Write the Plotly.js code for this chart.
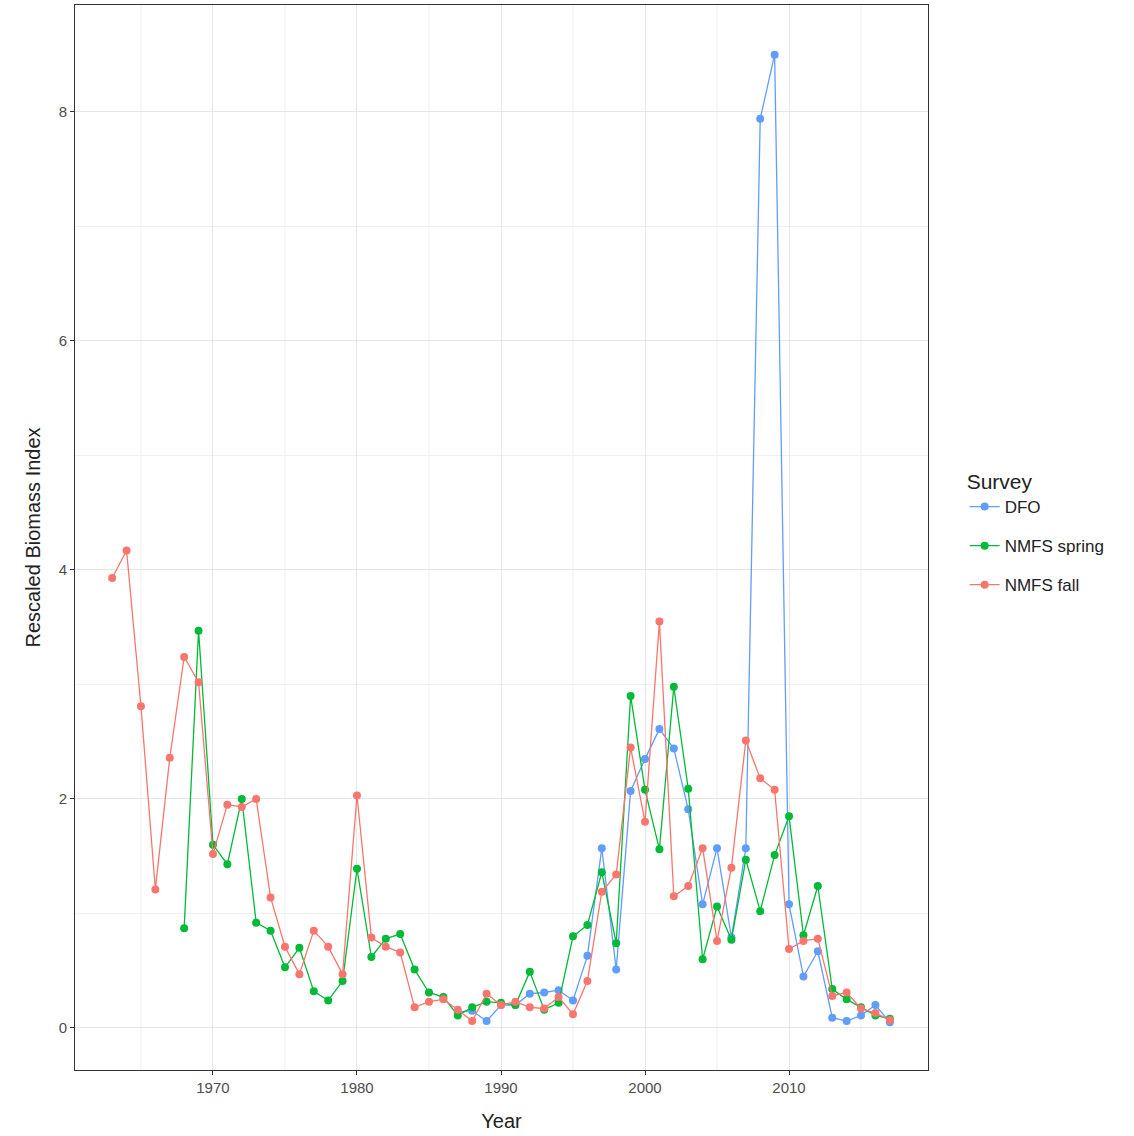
<!DOCTYPE html>
<html><head><script src="https://cdn.plot.ly/plotly-3.0.1.min.js"></script>
<style>body{margin:0}</style></head><body><div id="c" style="width:1134px;height:1136px"></div>
<script>
const fallYears=[];for(let y=1963;y<=2017;y++)fallYears.push(y);
const fallVals=[3.93,4.17,2.81,1.21,2.36,3.24,3.02,1.52,1.95,1.93,2.0,1.14,0.71,0.47,0.85,0.71,0.47,2.03,0.79,0.71,0.66,0.18,0.23,0.25,0.16,0.06,0.3,0.2,0.23,0.18,0.17,0.27,0.12,0.41,1.19,1.34,2.45,1.8,3.55,1.15,1.24,1.57,0.76,1.4,2.51,2.18,2.08,0.69,0.76,0.78,0.28,0.31,0.17,0.13,0.07];
const springYears=[];for(let y=1968;y<=2017;y++)springYears.push(y);
const springVals=[0.87,3.47,1.6,1.43,2.0,0.92,0.85,0.53,0.7,0.32,0.24,0.41,1.39,0.62,0.78,0.82,0.51,0.31,0.27,0.11,0.18,0.23,0.22,0.2,0.49,0.16,0.22,0.8,0.9,1.36,0.74,2.9,2.08,1.56,2.98,2.09,0.6,1.06,0.77,1.47,1.02,1.51,1.85,0.81,1.24,0.34,0.25,0.18,0.11,0.08];
const dfoYears=[];for(let y=1987;y<=2017;y++)dfoYears.push(y);
const dfoVals=[0.14,0.15,0.06,0.2,0.2,0.3,0.31,0.33,0.24,0.63,1.57,0.51,2.07,2.35,2.61,2.44,1.91,1.08,1.57,0.79,1.57,7.94,8.5,1.08,0.45,0.67,0.09,0.06,0.11,0.2,0.05];
function tr(x,y,name,color){return {x:x,y:y,name:name,legendgroup:name,type:'scatter',mode:'lines+markers',line:{color:color,width:1.3},marker:{color:color,size:8}};}
const data=[tr(dfoYears,dfoVals,'DFO','#619CFF'),tr(springYears,springVals,'NMFS spring','#00BA38'),tr(fallYears,fallVals,'NMFS fall','#F8766D')];
const ax={showline:true,mirror:true,linecolor:'#333',linewidth:1,gridcolor:'#e6e6e6',gridwidth:1.3,zeroline:false,ticks:'outside',ticklen:4,tickcolor:'#333',tickfont:{family:'Liberation Sans, Arial',size:15,color:'#4d4d4d'}};
const shapes=[];
[1,3,5,7].forEach(v=>shapes.push({type:'line',xref:'paper',x0:0,x1:1,yref:'y',y0:v,y1:v,line:{color:'#f0f0f0',width:1},layer:'below'}));
[1965,1975,1985,1995,2005,2015].forEach(v=>shapes.push({type:'line',yref:'paper',y0:0,y1:1,xref:'x',x0:v,x1:v,line:{color:'#f0f0f0',width:1},layer:'below'}));
Plotly.newPlot('c',data,{
 width:1134,height:1136,margin:{l:75,r:206,t:5,b:66},plot_bgcolor:'#fff',paper_bgcolor:'#fff',
 font:{family:'Liberation Sans, Arial'},shapes:shapes,
 xaxis:Object.assign({},ax,{range:[1960.42,2019.65],tickvals:[1970,1980,1990,2000,2010],title:{text:'Year',font:{size:20,color:'#222'},standoff:18}}),
 yaxis:Object.assign({},ax,{range:[-0.367,8.934],tickvals:[0,2,4,6,8],title:{text:'Rescaled Biomass Index',font:{size:20,color:'#222'},standoff:12}}),
 legend:{x:1.043,y:0.505,yanchor:'middle',traceorder:'grouped',tracegroupgap:14,title:{text:'Survey',font:{size:21,color:'#222'}},font:{size:17,color:'#222'}},
},{displayModeBar:false});
</script></body></html>
